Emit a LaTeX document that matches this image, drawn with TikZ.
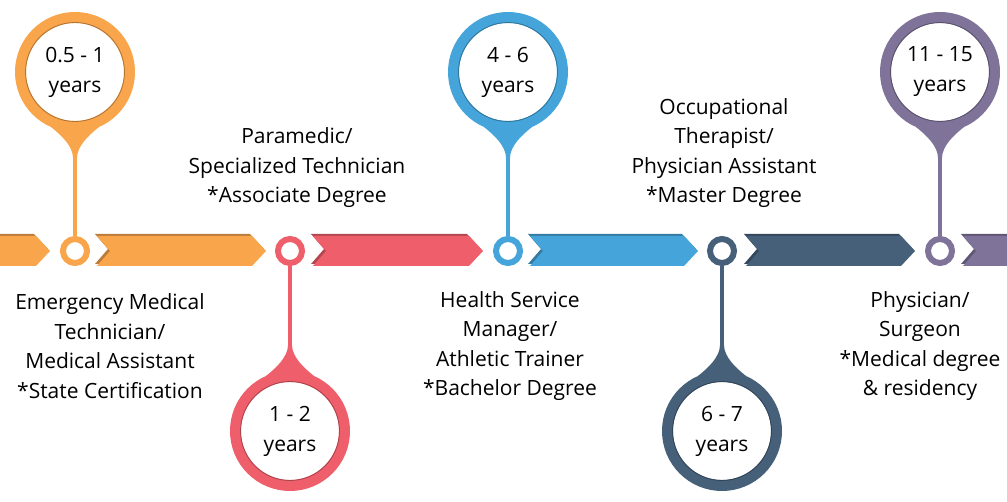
\documentclass[tikz,border=0pt]{standalone}
\usepackage{fontspec}
\setmainfont{Open Sans}
\usetikzlibrary{calc}

\definecolor{pinorange}{HTML}{F8A54B}
\definecolor{pinred}{HTML}{EF5F6B}
\definecolor{pinblue}{HTML}{45A5DA}
\definecolor{pinnavy}{HTML}{476079}
\definecolor{pinpurple}{HTML}{7F7399}

% chevron: colour, left end, tip
\newcommand\chevron[3]{%
  \fill[#1!75!black] (#2-2,234) -- (#3-16,234) -- (#3-2,249) -- (#3-16,264) -- (#2-2,264) -- (#2+11,249) -- cycle;
  \fill[#1] (#2,236) -- (#3-14,236) -- (#3,251) -- (#3-14,266) -- (#2,266) -- (#2+13,251) -- cycle;}
% flare of the stem at the big ring (s=1 below it, s=-1 above it)
\newcommand\pinflare[3]{%
  \fill[#1] ($(#2.center)+(-24,55*#3)$) .. controls +(10,8*#3) and +(0,-12*#3) .. ($(#2.center)+(-2,86*#3)$)
    -- ($(#2.center)+(2,86*#3)$) .. controls +(0,-12*#3) and +(-10,8*#3) .. ($(#2.center)+(24,55*#3)$) -- cycle;}

\begin{document}
\begin{tikzpicture}[x=1pt,y=-1pt,
    small/.style={circle,draw=#1,fill=white,line width=6pt,minimum size=24pt,inner sep=0pt},
    big/.style={circle,draw=#1,fill=white,line width=11pt,minimum size=109pt,inner sep=0pt,
      align=center,font=\fontsize{21}{30}\selectfont},
    stem/.style={draw=#1,line width=4pt},
    jobtext/.style={align=center,font=\fontsize{21}{29.5}\selectfont}]
    \useasboundingbox (0,0) rectangle (1007,502);

    \coordinate (p1) at (75,251);
    \coordinate (p2) at (290,251);
    \coordinate (p3) at (508,251);
    \coordinate (p4) at (722,251);
    \coordinate (p5) at (940,251);

    % the band
    \fill[pinorange!75!black] (0,234) -- (34,234) -- (48,249) -- (34,264) -- (0,264) -- cycle;
    \fill[pinorange] (0,236) -- (36,236) -- (50,251) -- (36,266) -- (0,266) -- cycle;
    \chevron{pinorange}{97}{266}
    \chevron{pinred}{313}{483}
    \chevron{pinblue}{530}{698}
    \chevron{pinnavy}{746}{915}
    \chevron{pinpurple}{963}{1030}

    % pins
    \node[small=pinorange] (s1) at (p1) {};
    \node[small=pinred]    (s2) at (p2) {};
    \node[small=pinblue]   (s3) at (p3) {};
    \node[small=pinnavy]   (s4) at (p4) {};
    \node[small=pinpurple] (s5) at (p5) {};

    \node[big=pinorange] (b1) at (75,72)  {0.5 - 1\\years};
    \node[big=pinred]    (b2) at (290,431) {1 - 2\\years};
    \node[big=pinblue]   (b3) at (508,72)  {4 - 6\\years};
    \node[big=pinnavy]   (b4) at (722,431) {6 - 7\\years};
    \node[big=pinpurple] (b5) at (940,72)  {11 - 15\\years};

    \draw[pinorange!70!black,line width=0.8pt] (b1.center) circle (49.5);
    \draw[pinred!70!black,line width=0.8pt]    (b2.center) circle (49.5);
    \draw[pinblue!70!black,line width=0.8pt]   (b3.center) circle (49.5);
    \draw[pinnavy!70!black,line width=0.8pt]   (b4.center) circle (49.5);
    \draw[pinpurple!70!black,line width=0.8pt] (b5.center) circle (49.5);

    \draw[stem=pinorange] (s1.north) -- (b1.south);
    \draw[stem=pinred]    (s2.south) -- (b2.north);
    \draw[stem=pinblue]   (s3.north) -- (b3.south);
    \draw[stem=pinnavy]   (s4.south) -- (b4.north);
    \draw[stem=pinpurple] (s5.north) -- (b5.south);

    \pinflare{pinorange}{b1}{1}
    \pinflare{pinred}{b2}{-1}
    \pinflare{pinblue}{b3}{1}
    \pinflare{pinnavy}{b4}{-1}
    \pinflare{pinpurple}{b5}{1}

    % texts
    \node[jobtext] (t1) at (110,346) {Emergency Medical\\Technician/\\Medical Assistant\\*State Certification};
    \node[jobtext] (t2) at (297,168) {Paramedic/\\Specialized Technician\\*Associate Degree};
    \node[jobtext] (t3) at (510,346) {Health Service\\Manager/\\Athletic Trainer\\*Bachelor Degree};
    \node[jobtext] (t4) at (724,153) {Occupational\\Therapist/\\Physician Assistant\\*Master Degree};
    \node[jobtext] (t5) at (920,346) {Physician/\\Surgeon\\*Medical degree\\\& residency};
\end{tikzpicture}
\end{document}
